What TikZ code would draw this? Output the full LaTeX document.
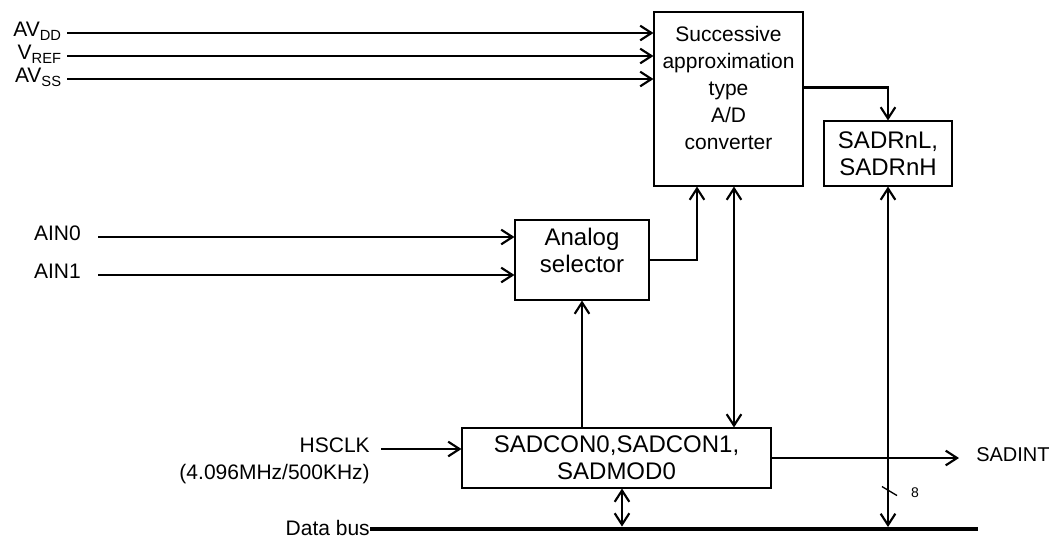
\documentclass[tikz,border=0pt]{standalone}
\usepackage{fontspec}
\setmainfont{Liberation Sans}
\usepackage{tikz}
\usetikzlibrary{arrows.meta, calc}

\begin{document}
\begin{tikzpicture}[
  x=0.75pt, y=-0.75pt,
  font=\fontsize{15.75}{20.25}\selectfont,
  >={Straight Barb[length=8.5pt,width=11pt]},
  block/.style={draw, line width=0.8pt, inner sep=0pt, align=center},
  big/.style={block, font=\fontsize{18}{20.5}\selectfont},
  lbl/.style={inner ysep=0pt, inner xsep=#1},
  lbl/.default=0pt,
  wire/.style={line width=1.6pt},
  bus/.style={line width=2.6pt}
]
\useasboundingbox (0,0) rectangle (1056,540);

\node[block, minimum width=111.75pt, minimum height=130.5pt, text depth=17pt] (adc) at (728.5,99) {Successive\\approximation\\type\\A/D\\converter};
\node[big, minimum width=96pt, minimum height=48.75pt] (sadr) at (888,153.5) {SADRnL,\\SADRnH};
\node[big, minimum width=100.5pt, minimum height=60pt, text depth=15pt] (sel) at (582,260) {Analog\\selector};
\node[big, minimum width=231.75pt, minimum height=45pt] (ctrl) at (616.5,458) {SADCON0,SADCON1,\\SADMOD0};

\node[lbl=3.75pt, anchor=mid east] (avdd) at (67,33) {AV\textsubscript{DD}};
\node[lbl=3.75pt, anchor=mid east] (vref) at (67,56) {V\textsubscript{REF}};
\node[lbl=3.75pt, anchor=mid east] (avss) at (67,79) {AV\textsubscript{SS}};
\node[lbl=12.75pt, anchor=mid east] (ain0) at (98,237) {AIN0};
\node[lbl=12.75pt, anchor=mid east] (ain1) at (98,275) {AIN1};
\node[lbl=8.25pt, anchor=mid east] (hsclk) at (381,449) {HSCLK};
\node[lbl, anchor=mid east] (freq) at (370,476) {(4.096MHz/500KHz)};
\node[lbl, anchor=mid east] (databus) at (370,532) {Data bus};
\node[lbl=12.75pt, anchor=mid west, font=\fontsize{15}{18}\selectfont] (sadint) at (959,458) {SADINT};
\coordinate (busend) at (978,529);

\draw[wire,->] (avdd.mid east) -- (adc.west |- avdd.mid east);
\draw[wire,->] (vref.mid east) -- (adc.west |- vref.mid east);
\draw[wire,->] (avss.mid east) -- (adc.west |- avss.mid east);
\draw[wire,->] ($(adc.north east)+(0,76)$) -| (sadr.north);
\draw[wire,->] (ain0.mid east) -- (sel.west |- ain0.mid east);
\draw[wire,->] (ain1.mid east) -- (sel.west |- ain1.mid east);
\draw[wire,->] (sel.east) -| ($(adc.south)+(-31.5,0)$);
\draw[wire,<->] ($(adc.south)+(5.5,0)$) -- ($(ctrl.north)+(117.5,0)$);
\draw[wire,->] (sel.south |- ctrl.north) -- (sel.south);
\draw[wire,->] (hsclk.mid east) -- (ctrl.west |- hsclk.mid east);
\draw[wire,->] (ctrl.east) -- (sadint.mid west);
\draw[wire,<->] ($(ctrl.south)+(5.5,0)$) -- ++(0,38);
\draw[bus] (databus.east |- busend) -- (busend);
\draw[wire,<->, shorten >=1.5pt] (sadr.south) -- (sadr.south |- busend);

% bus width mark
\draw[line width=1pt] ($(sadr.south)+(-6,300)$) -- ++(15,9);
\node[font=\fontsize{10.5}{12}\selectfont] (width8) at ($(sadr.south)+(27,306)$) {8};
\end{tikzpicture}
\end{document}
